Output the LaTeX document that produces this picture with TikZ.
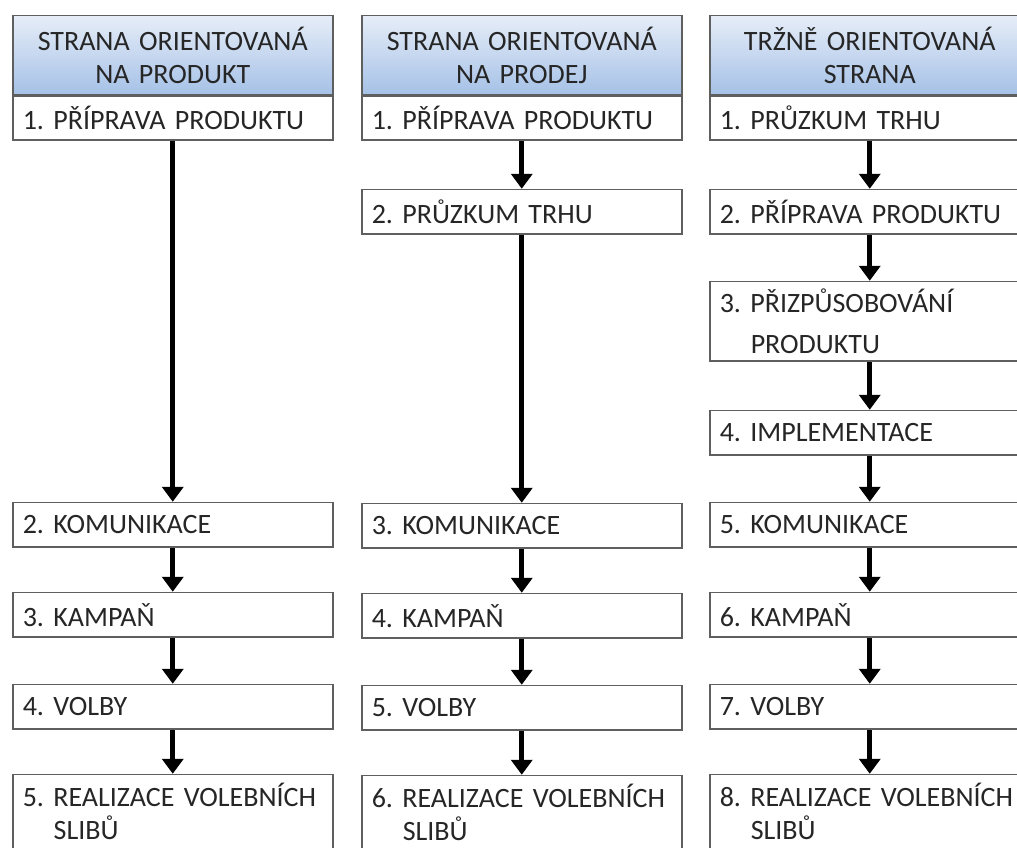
\documentclass[tikz,border=0pt]{standalone}
\usepackage{fontspec}
\setmainfont[WordSpace=0.85]{Carlito}
\frenchspacing
\usetikzlibrary{positioning,arrows.meta}
\definecolor{headtop}{RGB}{230,237,248}
\definecolor{headbot}{RGB}{165,193,231}
\definecolor{boxline}{RGB}{95,95,95}

\begin{document}
\begin{tikzpicture}[x=1pt,y=1pt]
                        \tikzstyle{every node}=[font=\fontsize{28pt}{33pt}\selectfont,text=black!85]
                        \tikzstyle{head}=[draw=boxline,line width=1.5,rectangle,top color=headtop,bottom color=headbot,minimum height=79.5pt,text width=300pt,inner xsep=10pt,inner ysep=0,align=center]
                        \tikzstyle{item}=[draw=boxline,line width=1.5,rectangle,fill=white,minimum height=44.5pt,text width=300pt,inner xsep=10pt,inner ysep=0,align=left]
                        \tikzstyle{tall}=[item,minimum height=79.5pt]
                        \tikzstyle{last}=[item,inner ysep=9pt]
                        {
                            \clip (0,0) rectangle (1017,-847);

                            % column headers
                            \node[head,anchor=north west] (h1) at (12,-14.75) {STRANA ORIENTOVANÁ\\NA PRODUKT};
                            \node[head,anchor=north west] (h2) at (361,-14.75) {STRANA ORIENTOVANÁ\\NA PRODEJ};
                            \node[head,anchor=north west] (h3) at (709,-14.75) {TRŽNĚ ORIENTOVANÁ\\STRANA};

                            % product oriented
                            \node[item,minimum height=43.5pt,below=0 of h1] (a1) {1. PŘÍPRAVA PRODUKTU};
                            \node[item,below=361 of a1] (a2) {2. KOMUNIKACE};
                            \node[item,below=44 of a2] (a3) {3. KAMPAŇ};
                            \node[item,below=46 of a3] (a4) {4. VOLBY};
                            \node[last,below=44 of a4] (a5) {5. REALIZACE VOLEBNÍCH\\\hspace*{31pt}SLIBŮ};

                            % sales oriented
                            \node[item,minimum height=43.5pt,below=0 of h2] (b1) {1. PŘÍPRAVA PRODUKTU};
                            \node[item,below=48 of b1] (b2) {2. PRŮZKUM TRHU};
                            \node[item,below=268 of b2] (b3) {3. KOMUNIKACE};
                            \node[item,below=44 of b3] (b4) {4. KAMPAŇ};
                            \node[item,below=46 of b4] (b5) {5. VOLBY};
                            \node[last,below=44 of b5] (b6) {6. REALIZACE VOLEBNÍCH\\\hspace*{31pt}SLIBŮ};

                            % market oriented
                            \node[item,minimum height=43.5pt,below=0 of h3] (c1) {1. PRŮZKUM TRHU};
                            \node[item,below=48 of c1] (c2) {2. PŘÍPRAVA PRODUKTU};
                            \node[tall,below=46 of c2] (c3) {3. PŘIZPŮSOBOVÁNÍ\\[8pt]\hspace*{31pt}PRODUKTU};
                            \node[item,below=48 of c3] (c4) {4. IMPLEMENTACE};
                            \node[item,below=46 of c4] (c5) {5. KOMUNIKACE};
                            \node[item,below=44 of c5] (c6) {6. KAMPAŇ};
                            \node[item,below=46 of c6] (c7) {7. VOLBY};
                            \node[last,below=44 of c7] (c8) {8. REALIZACE VOLEBNÍCH\\\hspace*{31pt}SLIBŮ};

                            \path[->,>={Triangle[width=21pt,length=15pt]},line width=5,draw=black]
                                (a1) edge (a2)
                                (a2) edge (a3)
                                (a3) edge (a4)
                                (a4) edge (a5)
                                (b1) edge (b2)
                                (b2) edge (b3)
                                (b3) edge (b4)
                                (b4) edge (b5)
                                (b5) edge (b6)
                                (c1) edge (c2)
                                (c2) edge (c3)
                                (c3) edge (c4)
                                (c4) edge (c5)
                                (c5) edge (c6)
                                (c6) edge (c7)
                                (c7) edge (c8);
                        }
\end{tikzpicture}
\end{document}
